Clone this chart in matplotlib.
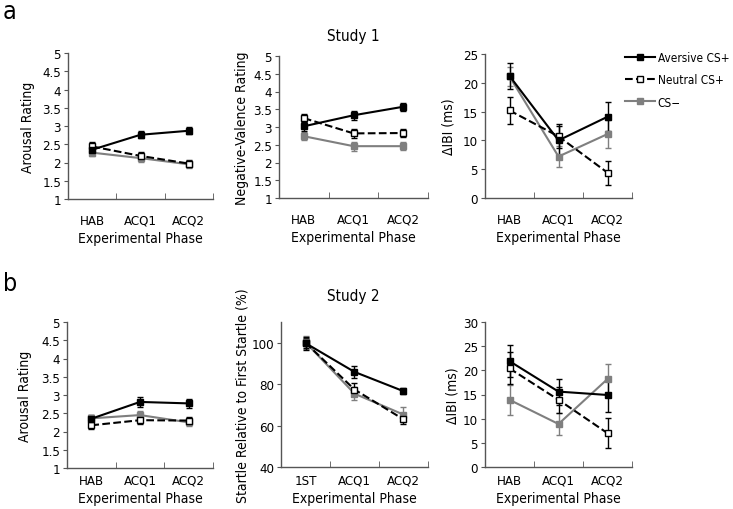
import numpy as np
import matplotlib
matplotlib.use('Agg')
import matplotlib.pyplot as plt
from matplotlib.lines import Line2D

plt.rcParams['font.family'] = ['DejaVu Sans']
plt.rcParams['font.stretch'] = 'condensed'

phases = ['HAB', 'ACQ1', 'ACQ2']
phases_startle = ['1ST', 'ACQ1', 'ACQ2']
series = ['Aversive CS+', 'Neutral CS+', 'CS\u2212']

# Study 1
s1_arousal = {'Aversive CS+': [2.35, 2.76, 2.87], 'Neutral CS+': [2.44, 2.18, 1.97], 'CS\u2212': [2.27, 2.12, 1.95]}
s1_arousal_err = {'Aversive CS+': [0.10, 0.10, 0.09], 'Neutral CS+': [0.11, 0.10, 0.10], 'CS\u2212': [0.10, 0.10, 0.10]}
s1_valence = {'Aversive CS+': [3.02, 3.33, 3.57], 'Neutral CS+': [3.25, 2.82, 2.83], 'CS\u2212': [2.74, 2.46, 2.46]}
s1_valence_err = {'Aversive CS+': [0.12, 0.12, 0.11], 'Neutral CS+': [0.12, 0.12, 0.11], 'CS\u2212': [0.12, 0.13, 0.12]}
s1_ibi = {'Aversive CS+': [21.2, 10.0, 14.1], 'Neutral CS+': [15.2, 10.7, 4.4], 'CS\u2212': [21.1, 7.2, 11.1]}
s1_ibi_err = {'Aversive CS+': [2.3, 2.5, 2.5], 'Neutral CS+': [2.4, 2.1, 2.1], 'CS\u2212': [1.7, 1.9, 2.4]}

# Study 2
s2_arousal = {'Aversive CS+': [2.35, 2.81, 2.77], 'Neutral CS+': [2.17, 2.31, 2.30], 'CS\u2212': [2.36, 2.45, 2.25]}
s2_arousal_err = {'Aversive CS+': [0.10, 0.13, 0.12], 'Neutral CS+': [0.11, 0.10, 0.10], 'CS\u2212': [0.10, 0.10, 0.09]}
s2_startle = {'Aversive CS+': [99.8, 85.9, 76.6], 'Neutral CS+': [100.0, 77.4, 63.0], 'CS\u2212': [100.2, 75.4, 65.3]}
s2_startle_err = {'Aversive CS+': [3.2, 3.0, 1.5], 'Neutral CS+': [2.5, 3.0, 2.0], 'CS\u2212': [3.0, 3.0, 3.5]}
s2_ibi = {'Aversive CS+': [21.9, 15.6, 14.9], 'Neutral CS+': [20.4, 13.9, 7.0], 'CS\u2212': [13.9, 8.9, 18.2]}
s2_ibi_err = {'Aversive CS+': [3.3, 2.7, 3.6], 'Neutral CS+': [3.3, 2.7, 3.1], 'CS\u2212': [3.1, 2.3, 3.2]}

style = {
    'Aversive CS+': dict(color='black', ls='-', mfc='black', mec='black'),
    'Neutral CS+': dict(color='black', ls='--', mfc='white', mec='black'),
    'CS\u2212': dict(color='#7f7f7f', ls='-', mfc='#7f7f7f', mec='#7f7f7f'),
}

W, H = 733, 510
fig = plt.figure(figsize=(W / 100, H / 100), dpi=100)

def panel(l, r, t, b, vals, errs, ylim, yticks, ylabel, xlabels, ylab_x, tick_top, xlab_y):
    ax = fig.add_axes([l / W, 1 - b / H, (r - l) / W, (b - t) / H])
    x = np.arange(1, 4)
    for k in ['CS\u2212', 'Neutral CS+', 'Aversive CS+']:
        st = style[k]
        ax.errorbar(x, vals[k], yerr=errs[k], color=st['color'], ls=st['ls'],
                    lw=1.5, marker='s', ms=4.2, mfc=st['mfc'], mec=st['mec'],
                    mew=1, elinewidth=1, capsize=2.5, capthick=1, zorder=3)
    ax.set_xlim(0.5, 3.5)
    ax.set_ylim(*ylim)
    ax.set_yticks(yticks)
    ax.set_yticklabels(['%g' % v for v in yticks])
    ax.set_xticks(x)
    ax.set_xticklabels(xlabels)
    ax.set_xticks([0.5, 1.5, 2.5, 3.5], minor=True)
    # pixel distance from axis to top of tick labels -> points
    ax.tick_params(axis='x', which='major', length=0, labelsize=9.5, pad=(tick_top - b) * 0.72)
    ax.tick_params(axis='x', which='minor', direction='in', length=4, color='#555555')
    ax.tick_params(axis='y', direction='out', length=3, labelsize=9.5, color='#555555', pad=2)
    for s in ['top', 'right']:
        ax.spines[s].set_visible(False)
    for s in ['left', 'bottom']:
        ax.spines[s].set_color('#555555')
        ax.spines[s].set_linewidth(1)
    ax.set_xlabel('Experimental Phase', fontsize=10)
    ax.xaxis.label.set_va('center')
    ax.xaxis.set_label_coords(0.5, -(xlab_y - b) / (b - t))
    ax.set_ylabel(ylabel, fontsize=10)
    ax.yaxis.label.set_va('center')
    ax.yaxis.set_label_coords((ylab_x - l) / (r - l), 0.5)
    return ax

r15 = np.arange(1, 5.01, 0.5)

panel(68, 213, 54, 200, s1_arousal, s1_arousal_err, (1, 5), r15, 'Arousal Rating', phases, 28, 215, 239)
panel(279, 428, 57, 199, s1_valence, s1_valence_err, (1, 5), r15, 'Negative-Valence Rating', phases, 242, 214, 238)
panel(485, 632, 55, 199, s1_ibi, s1_ibi_err, (0, 25), np.arange(0, 26, 5), '\u0394IBI (ms)', phases, 449, 214, 238)

panel(67, 213, 323, 469, s2_arousal, s2_arousal_err, (1, 5), r15, 'Arousal Rating', phases, 25, 475, 499)
panel(281, 428, 323, 468, s2_startle, s2_startle_err, (40, 110), np.arange(40, 101, 20),
      'Startle Relative to First Startle (%)', phases_startle, 242, 475, 499)
panel(485, 632, 323, 468, s2_ibi, s2_ibi_err, (0, 30), np.arange(0, 31, 5), '\u0394IBI (ms)', phases, 453, 475, 499)

fig.text(353 / W, 1 - 36 / H, 'Study 1', ha='center', va='center', fontsize=11)
fig.text(353 / W, 1 - 296 / H, 'Study 2', ha='center', va='center', fontsize=11)
fig.text(3 / W, 1 - 12 / H, 'a', ha='left', va='center', fontsize=18)
fig.text(3 / W, 1 - 284 / H, 'b', ha='left', va='center', fontsize=18)

handles = []
for k in series:
    st = style[k]
    handles.append(Line2D([0], [0], color=st['color'], ls=st['ls'], lw=1.5, marker='s',
                          ms=4.2, mfc=st['mfc'], mec=st['mec']))
fig.legend(handles, series, loc='upper left', bbox_to_anchor=(620 / W, 1 - 47 / H),
           frameon=False, prop=dict(size=8.5, stretch='condensed'), handlelength=2.6,
           handletextpad=0.2, labelspacing=0.8, borderaxespad=0)

fig.savefig('out.png', dpi=100)
